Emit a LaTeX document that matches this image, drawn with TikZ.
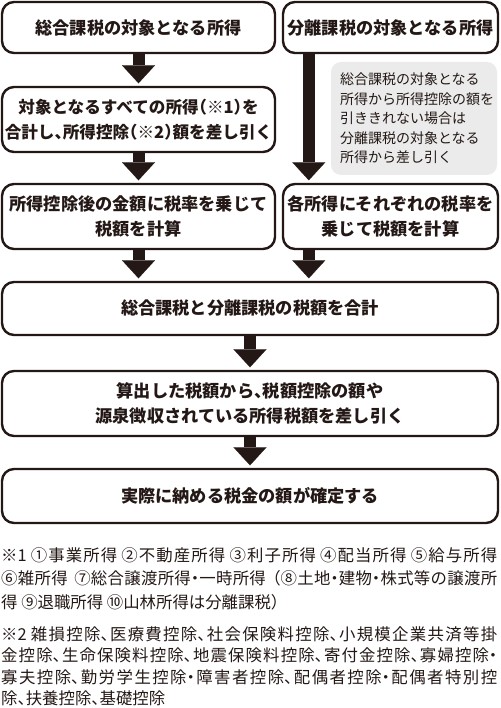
\documentclass[tikz,border=0pt]{standalone}
\usepackage{fontspec}
\setmainfont{Noto Sans CJK JP}[RawFeature=+halt]
\usetikzlibrary{arrows.meta,calc}
\definecolor{ink}{HTML}{231815}
\definecolor{notegray}{HTML}{EBEBEB}
\newcommand\jpboxfont{\bfseries\fontsize{17.2}{25}\selectfont}
\newcommand\jpboxfontsmall{\bfseries\fontsize{16.6}{25}\selectfont}
\newcommand\jpnotefont{\fontsize{14}{19.5}\selectfont}
\newcommand\jpfootfont{\fontsize{16.4}{23.5}\selectfont
  \XeTeXlinebreaklocale "ja"\XeTeXlinebreakskip=0pt plus 4pt\relax}
\newcommand\jpfootfontb{\fontsize{16.4}{21.5}\selectfont
  \XeTeXlinebreaklocale "ja"\XeTeXlinebreakskip=0pt plus 4pt\relax}
\tikzset{
  box/.style={draw=ink, line width=2.4pt, rounded corners=12pt, fill=white,
    align=center, inner sep=0pt, text=ink, font=\jpboxfont},
  flow/.style={draw=ink, line width=12pt,
    -{Triangle[width=33pt,length=18pt,line width=0.1pt]}, shorten >=2.5pt},
  notebox/.style={fill=notegray, rounded corners=10pt, inner ysep=0pt,
    inner xsep=9pt, text=ink, font=\jpnotefont, align=left},
  foot/.style={text=ink, inner sep=0pt, anchor=base west,
    text width=496pt, align=justify},
}
\begin{document}
\begin{tikzpicture}[x=1pt,y=1pt]
\useasboundingbox (0,0) rectangle (500,-708);
% boxes
\node[box, minimum width=273pt, minimum height=51pt] (A) at (138.5,-27.5) {総合課税の対象となる所得};
\node[box, minimum width=215pt, minimum height=51pt] (B) at (390.5,-27.5) {分離課税の対象となる所得};
\node[box, font=\jpboxfontsmall, minimum width=273pt, minimum height=65pt] (C) at (138.5,-119.5)
  {対象となるすべての所得（※1）を\\合計し、所得控除（※2）額を差し引く};
\node[notebox, text width=148pt, minimum height=113pt] (N) at (414,-118.5)
  {総合課税の対象となる\\所得から所得控除の額を\\引ききれない場合は\\分離課税の対象となる\\所得から差し引く};
\node[box, minimum width=273pt, minimum height=65pt] (D) at (138.5,-216.5)
  {所得控除後の金額に税率を乗じて\\税額を計算};
\node[box, minimum width=215pt, minimum height=65pt] (E) at (390.5,-216.5)
  {各所得にそれぞれの税率を\\乗じて税額を計算};
\node[box, minimum width=496pt, minimum height=53pt] (F) at (250,-308.5)
  {総合課税と分離課税の税額を合計};
\node[box, minimum width=496pt, minimum height=65pt] (G) at (250,-403.5)
  {算出した税額から、税額控除の額や\\源泉徴収されている所得税額を差し引く};
\node[box, minimum width=496pt, minimum height=54pt] (H) at (250,-496)
  {実際に納める税金の額が確定する};
% arrows
\coordinate (bs) at ($(B.south west)+(27,0)$);
\coordinate (es) at ($(E.south west)+(27,0)$);
\draw[flow] (A.south) -- (C.north);
\draw[flow] (bs) -- (bs |- E.north);
\draw[flow] (C.south) -- (D.north);
\draw[flow] (D.south) -- (D.south |- F.north);
\draw[flow] (es) -- (es |- F.north);
\draw[flow] (F.south) -- (G.north);
\draw[flow] (G.south) -- (H.north);
% footnotes
\node[foot, font=\jpfootfont] (n1) at (1,-561)
  {※1 ①事業所得 ②不動産所得 ③利子所得 ④配当所得 ⑤給与所得\linebreak
   ⑥雑所得\hspace{0.4em}⑦総合譲渡所得・一時所得\hspace{0.4em}（⑧土地・建物・株式等の譲渡所\linebreak
   得 ⑨退職所得 ⑩山林所得は分離課税）};
\node[foot, font=\jpfootfontb] (n2) at (1,-640)
  {※2 雑損控除、医療費控除、社会保険料控除、小規模企業共済等掛\linebreak
   金控除、生命保険料控除、地震保険料控除、寄付金控除、寡婦控除・\linebreak
   寡夫控除、勤労学生控除・障害者控除、配偶者控除・配偶者特別控\linebreak
   除、扶養控除、基礎控除};
\end{tikzpicture}
\end{document}
